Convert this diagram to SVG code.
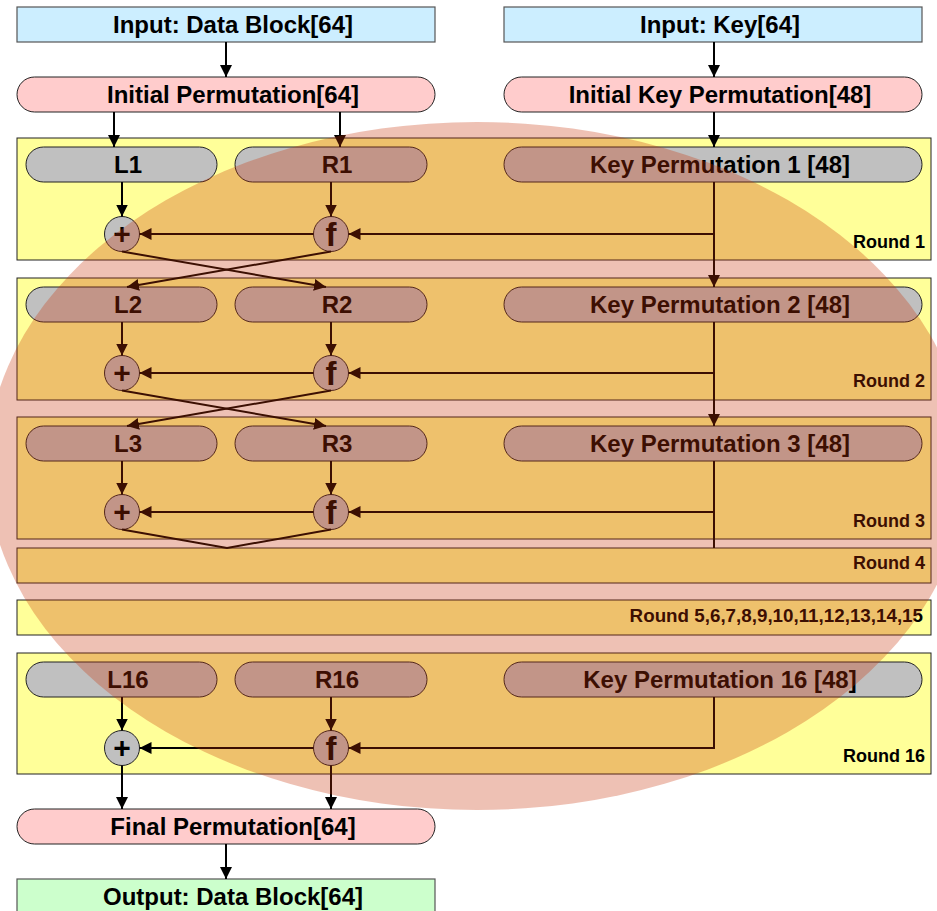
<svg xmlns="http://www.w3.org/2000/svg" width="937" height="911" viewBox="0 0 937 911">
  <defs>
    <marker id="arrow" markerUnits="userSpaceOnUse" markerWidth="12" markerHeight="12" refX="12" refY="6" orient="auto">
      <path d="M0,0 L12,6 L0,12 z" fill="#000"/>
    </marker>
    <style>
      text { font-family: "Liberation Sans", Arial, sans-serif; font-weight: bold; fill: #000; }
      .title { font-size: 24px; text-anchor: middle; }
      .round-label { font-size: 18px; text-anchor: end; }
      .round-label.long { font-size: 18.8px; }
      .op { font-size: 30px; text-anchor: middle; }
      .op.fn { font-size: 33px; }
      .input { fill: #cceeff; stroke: #555; stroke-width: 1.2; }
      .output { fill: #ccffcc; stroke: #555; stroke-width: 1.2; }
      .perm { fill: #ffcccc; stroke: #222; stroke-width: 1; }
      .half { fill: #c0c0c0; stroke: #222; stroke-width: 1; }
      .round { fill: #ffff99; stroke: #222; stroke-width: 1; }
      .wire { stroke: #000; stroke-width: 2; fill: none; }
      .wire-arrow { stroke: #000; stroke-width: 2; fill: none; marker-end: url(#arrow); }
    </style>
  </defs>
  <rect width="937" height="911" fill="#fff"/>

  <!-- round frames -->
  <g id="round1"><rect class="round" x="17" y="138" width="914" height="122"/><text class="round-label" x="925" y="248">Round 1</text></g>
  <g id="round2"><rect class="round" x="17" y="278" width="914" height="122"/><text class="round-label" x="925" y="387">Round 2</text></g>
  <g id="round3"><rect class="round" x="17" y="417" width="914" height="122"/><text class="round-label" x="925" y="527">Round 3</text></g>
  <g id="round4"><rect class="round" x="17" y="548" width="914" height="35"/><text class="round-label" x="925" y="569">Round 4</text></g>
  <g id="round5-15"><rect class="round" x="17" y="600" width="914" height="35"/><text class="round-label long" x="923" y="622">Round 5,6,7,8,9,10,11,12,13,14,15</text></g>
  <g id="round16"><rect class="round" x="17" y="653" width="914" height="121"/><text class="round-label" x="925" y="762">Round 16</text></g>

  <!-- inputs and permutations -->
  <g id="input-data"><rect class="input" x="17" y="7" width="418" height="35"/><text class="title" x="233" y="33">Input: Data Block[64]</text></g>
  <g id="input-key"><rect class="input" x="504" y="7" width="418" height="35"/><text class="title" x="720" y="33">Input: Key[64]</text></g>
  <g id="initial-perm"><rect class="perm" x="17" y="77" width="418" height="35" rx="17.5"/><text class="title" x="233" y="103">Initial Permutation[64]</text></g>
  <g id="initial-key-perm"><rect class="perm" x="504" y="77" width="418" height="35" rx="17.5"/><text class="title" x="720" y="103">Initial Key Permutation[48]</text></g>

  <!-- round 1 nodes -->
  <g id="L1"><rect class="half" x="26" y="147" width="191" height="35" rx="17.5"/><text class="title" x="128" y="173">L1</text></g>
  <g id="R1"><rect class="half" x="235" y="147" width="192" height="35" rx="17.5"/><text class="title" x="337" y="173">R1</text></g>
  <g id="K1"><rect class="half" x="504" y="147" width="418" height="35" rx="17.5"/><text class="title" x="720" y="173">Key Permutation 1 [48]</text></g>
  <g id="xor1"><circle class="half" cx="122" cy="234" r="17.5"/><text class="op" x="122" y="244">+</text></g>
  <g id="f1"><circle class="half" cx="331" cy="234" r="17.5"/><text class="op fn" x="331" y="246">f</text></g>

  <!-- round 2 nodes -->
  <g id="L2"><rect class="half" x="26" y="287" width="191" height="35" rx="17.5"/><text class="title" x="128" y="313">L2</text></g>
  <g id="R2"><rect class="half" x="235" y="287" width="192" height="35" rx="17.5"/><text class="title" x="337" y="313">R2</text></g>
  <g id="K2"><rect class="half" x="504" y="287" width="418" height="35" rx="17.5"/><text class="title" x="720" y="313">Key Permutation 2 [48]</text></g>
  <g id="xor2"><circle class="half" cx="122" cy="373" r="17.5"/><text class="op" x="122" y="383">+</text></g>
  <g id="f2"><circle class="half" cx="331" cy="373" r="17.5"/><text class="op fn" x="331" y="385">f</text></g>

  <!-- round 3 nodes -->
  <g id="L3"><rect class="half" x="26" y="426" width="191" height="35" rx="17.5"/><text class="title" x="128" y="452">L3</text></g>
  <g id="R3"><rect class="half" x="235" y="426" width="192" height="35" rx="17.5"/><text class="title" x="337" y="452">R3</text></g>
  <g id="K3"><rect class="half" x="504" y="426" width="418" height="35" rx="17.5"/><text class="title" x="720" y="452">Key Permutation 3 [48]</text></g>
  <g id="xor3"><circle class="half" cx="122" cy="512" r="17.5"/><text class="op" x="122" y="522">+</text></g>
  <g id="f3"><circle class="half" cx="331" cy="512" r="17.5"/><text class="op fn" x="331" y="524">f</text></g>

  <!-- round 16 nodes -->
  <g id="L16"><rect class="half" x="26" y="662" width="191" height="35" rx="17.5"/><text class="title" x="128" y="688">L16</text></g>
  <g id="R16"><rect class="half" x="235" y="662" width="192" height="35" rx="17.5"/><text class="title" x="337" y="688">R16</text></g>
  <g id="K16"><rect class="half" x="504" y="662" width="418" height="35" rx="17.5"/><text class="title" x="720" y="688">Key Permutation 16 [48]</text></g>
  <g id="xor16"><circle class="half" cx="122" cy="748" r="17.5"/><text class="op" x="122" y="758">+</text></g>
  <g id="f16"><circle class="half" cx="331" cy="748" r="17.5"/><text class="op fn" x="331" y="760">f</text></g>

  <!-- output -->
  <g id="final-perm"><rect class="perm" x="17" y="809" width="418" height="35" rx="17.5"/><text class="title" x="233" y="835">Final Permutation[64]</text></g>
  <g id="output-data"><rect class="output" x="17" y="879" width="418" height="35"/><text class="title" x="233" y="905">Output: Data Block[64]</text></g>

  <!-- connectors -->
  <g id="connectors">
    <line class="wire-arrow" x1="226" y1="42" x2="226" y2="77"/>
    <line class="wire-arrow" x1="714" y1="42" x2="714" y2="77"/>
    <line class="wire-arrow" x1="114" y1="112" x2="114" y2="147"/>
    <line class="wire-arrow" x1="340" y1="112" x2="340" y2="147"/>
    <line class="wire-arrow" x1="714" y1="112" x2="714" y2="147"/>

    <!-- round 1 -->
    <line class="wire-arrow" x1="122" y1="182" x2="122" y2="216.5"/>
    <line class="wire-arrow" x1="331" y1="182" x2="331" y2="216.5"/>
    <line class="wire-arrow" x1="714" y1="182" x2="714" y2="287"/>
    <line class="wire-arrow" x1="714" y1="234" x2="348.5" y2="234"/>
    <line class="wire-arrow" x1="313.5" y1="234" x2="139.5" y2="234"/>
    <line class="wire-arrow" x1="122" y1="251.5" x2="326" y2="287"/>
    <line class="wire-arrow" x1="331" y1="251.5" x2="127" y2="287"/>

    <!-- round 2 -->
    <line class="wire-arrow" x1="122" y1="322" x2="122" y2="355.5"/>
    <line class="wire-arrow" x1="331" y1="322" x2="331" y2="355.5"/>
    <line class="wire-arrow" x1="714" y1="322" x2="714" y2="426"/>
    <line class="wire-arrow" x1="714" y1="373" x2="348.5" y2="373"/>
    <line class="wire-arrow" x1="313.5" y1="373" x2="139.5" y2="373"/>
    <line class="wire-arrow" x1="122" y1="390.5" x2="326" y2="426"/>
    <line class="wire-arrow" x1="331" y1="390.5" x2="127" y2="426"/>

    <!-- round 3 -->
    <line class="wire-arrow" x1="122" y1="461" x2="122" y2="494.5"/>
    <line class="wire-arrow" x1="331" y1="461" x2="331" y2="494.5"/>
    <line class="wire" x1="714" y1="461" x2="714" y2="548"/>
    <line class="wire-arrow" x1="714" y1="512" x2="348.5" y2="512"/>
    <line class="wire-arrow" x1="313.5" y1="512" x2="139.5" y2="512"/>
    <polyline class="wire" points="122,529.5 227,548 331,529.5"/>

    <!-- round 16 -->
    <line class="wire-arrow" x1="122" y1="697" x2="122" y2="730.5"/>
    <line class="wire-arrow" x1="331" y1="697" x2="331" y2="730.5"/>
    <polyline class="wire-arrow" points="714,697 714,748 348.5,748"/>
    <line class="wire-arrow" x1="313.5" y1="748" x2="139.5" y2="748"/>
    <line class="wire-arrow" x1="122" y1="765.5" x2="122" y2="809"/>
    <line class="wire-arrow" x1="331" y1="765.5" x2="331" y2="809"/>

    <line class="wire-arrow" x1="226" y1="844" x2="226" y2="879"/>
  </g>

  <!-- translucent highlight over the round structure -->
  <g id="highlight">
    <ellipse cx="477" cy="466" rx="490" ry="344" fill="rgb(200,50,5)" fill-opacity="0.3"/>
  </g>
</svg>
